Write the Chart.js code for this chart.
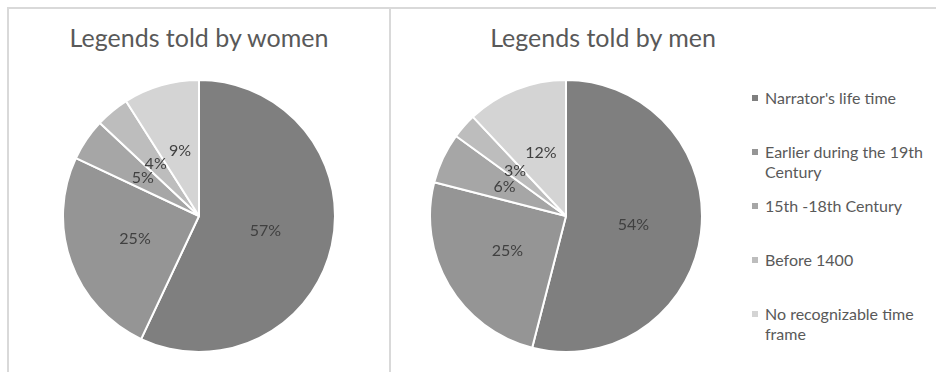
<!DOCTYPE html>
<html lang="en">
<head>
  <meta charset="UTF-8">
  <title>Legends by time frame</title>
  <script src="https://cdn.jsdelivr.net/npm/chart.js"></script>
  <style>
    body { margin: 0; background: #fff; font-family: Lato, "Noto Sans", sans-serif; }
    #frame { position: relative; width: 936px; height: 372px; overflow: hidden; }
    .line { position: absolute; background: #d9d9d9; }
    .title { position: absolute; top: 22px; font-size: 25px; color: #595959; white-space: nowrap; transform: translateX(-50%); }
    .pie { position: absolute; top: 79px; width: 274px; height: 274px; }
    #legend { position: absolute; left: 752px; top: 88px; margin: 0; padding: 0; list-style: none; }
    #legend li { position: relative; height: 54px; padding-left: 13px; font-size: 16px; line-height: 20px; color: #595959; }
    #legend span { position: absolute; left: 0; top: 7px; width: 6px; height: 6px; }
  </style>
</head>
<body>
  <div id="frame">
    <div class="line" style="left:7px; top:7px; width:929px; height:2px;"></div>
    <div class="line" style="left:7px; top:7px; width:2px; height:365px;"></div>
    <div class="line" style="left:389px; top:7px; width:2px; height:365px;"></div>

    <div class="title" style="left:199px;">Legends told by women</div>
    <div class="pie" style="left:62px;"><canvas id="womenChart"></canvas></div>

    <div class="title" style="left:603px;">Legends told by men</div>
    <div class="pie" style="left:429px;"><canvas id="menChart"></canvas></div>

    <ul id="legend"></ul>
  </div>

  <script>
    const periods = [
      "Narrator's life time",
      'Earlier during the 19th Century',
      '15th -18th Century',
      'Before 1400',
      'No recognizable time frame'
    ];
    // legend text broken the same way the labels wrap
    const legendLines = [
      ["Narrator's life time"],
      ['Earlier during the 19th', 'Century'],
      ['15th -18th Century'],
      ['Before 1400'],
      ['No recognizable time', 'frame']
    ];
    const women = [57, 25, 5, 4, 9];
    const men = [54, 25, 6, 3, 12];
    const shades = ['#7f7f7f', '#959595', '#a6a6a6', '#bdbdbd', '#d4d4d4'];

    // percentage text at the middle of each slice
    const sliceLabels = {
      id: 'sliceLabels',
      afterDatasetsDraw(chart) {
        const ctx = chart.ctx;
        const values = chart.data.datasets[0].data;
        ctx.save();
        ctx.font = '16px Lato, "Noto Sans", sans-serif';
        ctx.fillStyle = '#404040';
        ctx.textAlign = 'center';
        ctx.textBaseline = 'middle';
        chart.getDatasetMeta(0).data.forEach((arc, i) => {
          const p = arc.tooltipPosition();
          ctx.fillText(values[i] + '%', p.x, p.y);
        });
        ctx.restore();
      }
    };

    function makePie(id, values) {
      new Chart(document.getElementById(id), {
        type: 'pie',
        data: {
          labels: periods,
          datasets: [{
            data: values,
            backgroundColor: shades,
            borderColor: '#ffffff',
            borderWidth: 2
          }]
        },
        options: {
          responsive: true,
          maintainAspectRatio: false,
          animation: false,
          layout: { padding: 0 },
          plugins: {
            legend: { display: false },
            tooltip: { enabled: false }
          }
        },
        plugins: [sliceLabels]
      });
    }

    makePie('womenChart', women);
    makePie('menChart', men);

    const legend = document.getElementById('legend');
    legendLines.forEach((lines, i) => {
      const li = document.createElement('li');
      const box = document.createElement('span');
      box.style.background = shades[i];
      li.appendChild(box);
      li.appendChild(document.createTextNode(lines.join('\n')));
      li.style.whiteSpace = 'pre';
      legend.appendChild(li);
    });
  </script>
</body>
</html>
